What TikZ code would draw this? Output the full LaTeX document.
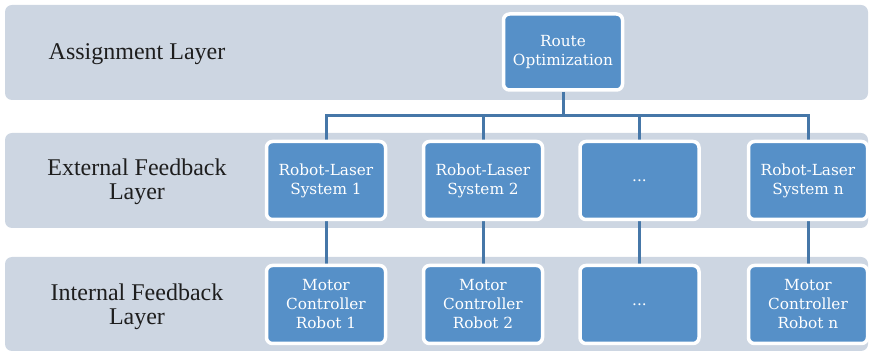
\documentclass[tikz,border=0pt]{standalone}
\usepackage{fontspec}
\setmainfont{Liberation Serif}
\newfontfamily\boxfont{DejaVu Serif}
\pgfdeclarelayer{back}
\pgfdeclarelayer{mid}
\pgfsetlayers{back,mid,main}
\definecolor{bandc}{HTML}{CDD6E2}
\definecolor{boxc}{HTML}{5690C8}
\definecolor{linec}{HTML}{4677A8}
\definecolor{labc}{HTML}{1E1E1E}
\tikzset{
  band/.style={fill=bandc, draw=none, rounded corners=7pt},
  layerlabel/.style={text=labc, align=center, font=\fontsize{24}{24.5}\selectfont},
  unit/.style={draw=white, line width=3.5pt, fill=boxc, rounded corners=6pt,
    minimum width=119pt, minimum height=78pt, inner sep=0pt, text=white,
    align=center, font=\boxfont\fontsize{15.3}{19}\selectfont},
  conn/.style={draw=linec, line width=3pt}
}
\begin{document}
\begin{tikzpicture}[x=1pt,y=-1pt]
\useasboundingbox (0,0) rectangle (870,352);
% layer bands
\begin{pgfonlayer}{back}
\fill[band] (5,5) rectangle (868,100);
\fill[band] (5,133) rectangle (868,228);
\fill[band] (5,257) rectangle (868,351);
\end{pgfonlayer}
% layer labels
\node[layerlabel] (la) at (137,54) {Assignment Layer};
\node[layerlabel] (lb) at (137,182) {External Feedback\\Layer};
\node[layerlabel] (lc) at (137,307) {Internal Feedback\\Layer};
% boxes
\node[unit, minimum height=76pt] (route) at (563,52) {Route\\Optimization};
\node[unit] (e1) at (326,180.5) {Robot-Laser\\System 1};
\node[unit] (e2) at (483,180.5) {Robot-Laser\\System 2};
\node[unit] (e3) at (639.5,180.5) {...};
\node[unit] (e4) at (808,180.5) {Robot-Laser\\System n};
\node[unit] (i1) at (326,304.5) {Motor\\Controller\\Robot 1};
\node[unit] (i2) at (483,304.5) {Motor\\Controller\\Robot 2};
\node[unit] (i3) at (639.5,304.5) {...};
\node[unit] (i4) at (808,304.5) {Motor\\Controller\\Robot n};
\coordinate (bus) at (563,116);
% connectors
\begin{pgfonlayer}{mid}
\draw[conn] (route.south) -- (route.south |- bus);
\draw[conn] (e1.north) -- (e1.north |- bus) -- (e4.north |- bus) -- (e4.north);
\draw[conn] (e2.north) -- (e2.north |- bus);
\draw[conn] (e3.north) -- (e3.north |- bus);
\draw[conn] (e1.south) -- (i1.north);
\draw[conn] (e2.south) -- (i2.north);
\draw[conn] (e3.south) -- (i3.north);
\draw[conn] (e4.south) -- (i4.north);
\end{pgfonlayer}
\end{tikzpicture}
\end{document}
